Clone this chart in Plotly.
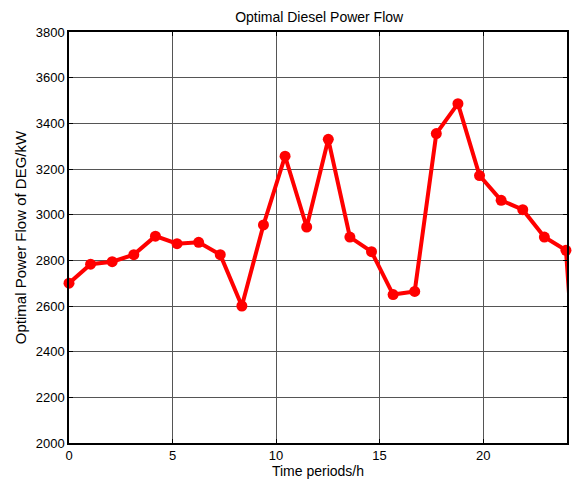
import plotly.graph_objects as go

# 24 hourly samples spread over 0..24 h, plus one trailing sample beyond the view
n_points = 25
time_h = [i * 24 / 23 for i in range(n_points)]
power_kw = [2700, 2783, 2794, 2825, 2906, 2873, 2879, 2825, 2600, 2955,
            3256, 2946, 3330, 2902, 2838, 2650, 2664, 3355, 3486, 3171,
            3063, 3022, 2902, 2844, 1500]

x_ticks = [0, 5, 10, 15, 20]
y_ticks = [2000, 2200, 2400, 2600, 2800, 3000, 3200, 3400, 3600, 3800]

FONT = "Liberation Sans, Arial"

fig = go.Figure()
fig.add_trace(go.Scatter(
    x=time_h, y=power_kw, mode="lines+markers",
    line=dict(color="#ff0000", width=4),
    marker=dict(color="#ff0000", size=11),
    showlegend=False, cliponaxis=False,
))

axis_common = dict(
    showgrid=True, gridcolor="#555555", gridwidth=0.8,
    showline=True, linecolor="black", linewidth=1.5, mirror="ticks",
    ticks="inside", ticklen=4, tickcolor="black",
    zeroline=False,
    tickfont=dict(family=FONT, size=13, color="black"),
)

fig.update_layout(
    width=573, height=482,
    margin=dict(l=69, r=4, t=32, b=39),
    paper_bgcolor="white", plot_bgcolor="white",
    title=dict(text="Optimal Diesel Power Flow", x=0.557, xanchor="center",
               y=0.965, yanchor="middle",
               font=dict(family=FONT, size=14, color="black")),
    xaxis=dict(range=[0, 24.05], tickvals=x_ticks,
               title=dict(text="Time periods/h", standoff=3,
                          font=dict(family=FONT, size=14, color="black")),
               **axis_common),
    yaxis=dict(range=[2000, 3800], tickvals=y_ticks,
               title=dict(text="Optimal Power Flow of DEG/kW", standoff=5,
                          font=dict(family=FONT, size=15, color="black")),
               **axis_common),
)

fig.write_html("out.html")
